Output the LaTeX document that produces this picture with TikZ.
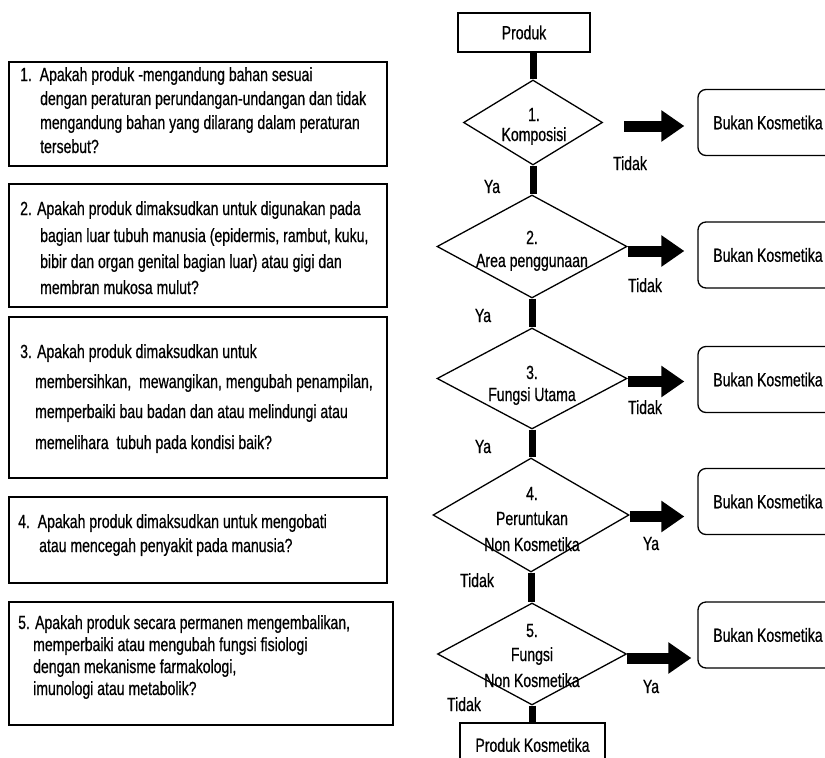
\documentclass[tikz,border=0pt]{standalone}
\usepackage{fontspec}
\setmainfont{Liberation Sans}[FakeStretch=0.74,FakeBold=0.6]
\usetikzlibrary{shapes.geometric,arrows.meta}
\begin{document}
\begin{tikzpicture}[x=1pt,y=-1pt,
  every node/.style={font=\fontsize{19}{21}\selectfont, inner sep=0pt},
  qbox/.style={draw, line width=1.8pt, rectangle},
  qline/.style={anchor=base west},
  dia/.style={draw, line width=1.3pt, diamond, inner sep=0pt},
  dtext/.style={anchor=base},
  lab/.style={anchor=base},
  bk/.style={draw, line width=1.3pt, rounded corners=8pt, minimum width=140pt, minimum height=66pt},
  sbox/.style={draw, line width=1.3pt, rectangle},
  stem/.style={line width=7pt},
  barrow/.style={line width=11pt, -{Triangle[width=30pt,length=23pt]}}]
\useasboundingbox (0,0) rectangle (825,758);

% left question boxes
\node[qbox, minimum width=378pt, minimum height=104pt] (q1) at (198,114) {};
\node[qline] (q1a) at (20,81) {1.\ \ Apakah produk -mengandung bahan sesuai};
\node[qline] (q1b) at (40,105) {dengan peraturan perundangan-undangan dan tidak};
\node[qline] (q1c) at (40,129) {mengandung bahan yang dilarang dalam peraturan};
\node[qline] (q1d) at (40,153) {tersebut?};

\node[qbox, minimum width=378pt, minimum height=123pt] (q2) at (198,245.5) {};
\node[qline] (q2a) at (20,215) {2. Apakah produk dimaksudkan untuk digunakan pada};
\node[qline] (q2b) at (40,242) {bagian luar tubuh manusia (epidermis, rambut, kuku,};
\node[qline] (q2c) at (40,268) {bibir dan organ genital bagian luar) atau gigi dan};
\node[qline] (q2d) at (40,294) {membran mukosa mulut?};

\node[qbox, minimum width=378pt, minimum height=161pt] (q3) at (198,397.5) {};
\node[qline] (q3a) at (20,358) {3. Apakah produk dimaksudkan untuk};
\node[qline] (q3b) at (35,388) {membersihkan,\ \ mewangikan, mengubah penampilan,};
\node[qline] (q3c) at (35,418) {memperbaiki bau badan dan atau melindungi atau};
\node[qline] (q3d) at (35,449) {memelihara\ \ tubuh pada kondisi baik?};

\node[qbox, minimum width=378pt, minimum height=86pt] (q4) at (198,540) {};
\node[qline] (q4a) at (18,528) {4.\ \ Apakah produk dimaksudkan untuk mengobati};
\node[qline] (q4b) at (39,552) {atau mencegah penyakit pada manusia?};

\node[qbox, minimum width=384pt, minimum height=123pt] (q5) at (201,663.5) {};
\node[qline] (q5a) at (18,629) {5. Apakah produk secara permanen mengembalikan,};
\node[qline] (q5b) at (33,651) {memperbaiki atau mengubah fungsi fisiologi};
\node[qline] (q5c) at (33,673) {dengan mekanisme farmakologi,};
\node[qline] (q5d) at (33,695) {imunologi atau metabolik?};

% flowchart
\node[sbox, minimum width=132pt, minimum height=39pt] (prod) at (524,32.5) {Produk};

\node[dia, minimum width=139pt, minimum height=85pt] (d1) at (533,122.5) {};
\node[dia, minimum width=190pt, minimum height=103pt] (d2) at (532,246.5) {};
\node[dia, minimum width=190pt, minimum height=101pt] (d3) at (532,378.5) {};
\node[dia, minimum width=196pt, minimum height=114pt] (d4) at (531,515) {};
\node[dia, minimum width=189pt, minimum height=102pt] (d5) at (532,654) {};

\node[sbox, minimum width=145pt, minimum height=44pt] (pk) at (532.5,745) {Produk Kosmetika};

% stems
\draw[stem] (d1.north) -- (d1.north |- prod.south);
\draw[stem] (d1.south) -- (d1.south |- d2.north);
\draw[stem] (d2.south) -- (d2.south |- d3.north);
\draw[stem] (d3.south) -- (d3.south |- d4.north);
\draw[stem] (d4.south) -- (d4.south |- d5.north);
\draw[stem] (d5.south) -- (d5.south |- pk.north);

% diamond texts
\node[dtext] (t1a) at (534,121) {1.};
\node[dtext] (t1b) at (534,141) {Komposisi};
\node[dtext] (t2a) at (532,244) {2.};
\node[dtext] (t2b) at (532,267) {Area penggunaan};
\node[dtext] (t3a) at (532,379) {3.};
\node[dtext] (t3b) at (532,401) {Fungsi Utama};
\node[dtext] (t4a) at (532,500) {4.};
\node[dtext] (t4b) at (532,525) {Peruntukan};
\node[dtext] (t4c) at (532,551) {Non Kosmetika};
\node[dtext] (t5a) at (532,637) {5.};
\node[dtext] (t5b) at (532,661) {Fungsi};
\node[dtext] (t5c) at (532,687) {Non Kosmetika};

% result boxes
\node[bk] (b1) at (768,122.5) {Bukan Kosmetika};
\node[bk] (b2) at (768,255) {Bukan Kosmetika};
\node[bk] (b3) at (768,379.5) {Bukan Kosmetika};
\node[bk] (b4) at (768,501.5) {Bukan Kosmetika};
\node[bk] (b5) at (768,635) {Bukan Kosmetika};

% block arrows
\draw[barrow] ([xshift=21pt,yshift=-3.5pt]d1.east) -- ([xshift=-13pt,yshift=-3.5pt]d1.east -| b1.west);
\draw[barrow] ([yshift=-4.5pt]d2.east) -- ([xshift=-13pt,yshift=-4.5pt]d2.east -| b2.west);
\draw[barrow] ([yshift=-3pt]d3.east) -- ([xshift=-13pt,yshift=-3pt]d3.east -| b3.west);
\draw[barrow] ([yshift=-1.5pt]d4.east) -- ([xshift=-13pt,yshift=-1.5pt]d4.east -| b4.west);
\draw[barrow] ([yshift=-4pt]d5.east) -- ([xshift=-6pt,yshift=-4pt]d5.east -| b5.west);

% branch labels
\node[lab] (l1t) at (630,170) {Tidak};
\node[lab] (l1y) at (492,193) {Ya};
\node[lab] (l2t) at (645,292) {Tidak};
\node[lab] (l2y) at (483,322) {Ya};
\node[lab] (l3t) at (645,414) {Tidak};
\node[lab] (l3y) at (483,453) {Ya};
\node[lab] (l4y) at (651,550) {Ya};
\node[lab] (l4t) at (477,587) {Tidak};
\node[lab] (l5y) at (651,693) {Ya};
\node[lab] (l5t) at (464,711) {Tidak};
\end{tikzpicture}
\end{document}
